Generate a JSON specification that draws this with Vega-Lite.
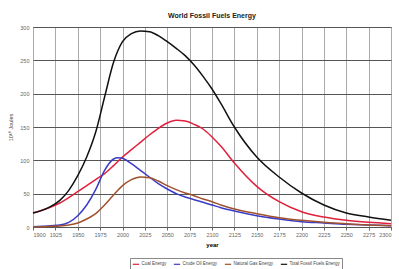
{
  "$schema": "https://vega.github.io/schema/vega-lite/v6.json",
  "width": 358,
  "height": 200,
  "autosize": {"type": "none"},
  "padding": {"left": 33, "top": 27, "right": 8, "bottom": 42},
  "background": "white",
  "title": {"text": "World Fossil Fuels Energy", "fontSize": 7, "fontWeight": "bold", "font": "Liberation Sans", "color": "#222", "offset": 6},
  "config": {
    "view": {"stroke": "#888", "strokeWidth": 1},
    "font": "Liberation Sans"
  },
  "data": {"values": [
    {"year": 1900, "series": "Coal Energy", "value": 21},
    {"year": 1910, "series": "Coal Energy", "value": 25},
    {"year": 1920, "series": "Coal Energy", "value": 30},
    {"year": 1930, "series": "Coal Energy", "value": 36},
    {"year": 1940, "series": "Coal Energy", "value": 44},
    {"year": 1950, "series": "Coal Energy", "value": 53},
    {"year": 1960, "series": "Coal Energy", "value": 62},
    {"year": 1970, "series": "Coal Energy", "value": 71},
    {"year": 1980, "series": "Coal Energy", "value": 80},
    {"year": 1990, "series": "Coal Energy", "value": 92},
    {"year": 2000, "series": "Coal Energy", "value": 105},
    {"year": 2010, "series": "Coal Energy", "value": 116},
    {"year": 2020, "series": "Coal Energy", "value": 127},
    {"year": 2030, "series": "Coal Energy", "value": 138},
    {"year": 2040, "series": "Coal Energy", "value": 148},
    {"year": 2050, "series": "Coal Energy", "value": 156},
    {"year": 2060, "series": "Coal Energy", "value": 160},
    {"year": 2070, "series": "Coal Energy", "value": 159},
    {"year": 2080, "series": "Coal Energy", "value": 154},
    {"year": 2090, "series": "Coal Energy", "value": 147},
    {"year": 2100, "series": "Coal Energy", "value": 135},
    {"year": 2110, "series": "Coal Energy", "value": 121},
    {"year": 2125, "series": "Coal Energy", "value": 96},
    {"year": 2150, "series": "Coal Energy", "value": 61},
    {"year": 2175, "series": "Coal Energy", "value": 38},
    {"year": 2200, "series": "Coal Energy", "value": 23},
    {"year": 2225, "series": "Coal Energy", "value": 15},
    {"year": 2250, "series": "Coal Energy", "value": 10},
    {"year": 2275, "series": "Coal Energy", "value": 7},
    {"year": 2300, "series": "Coal Energy", "value": 5},

    {"year": 1900, "series": "Crude Oil Energy", "value": 0.5},
    {"year": 1910, "series": "Crude Oil Energy", "value": 1},
    {"year": 1920, "series": "Crude Oil Energy", "value": 2},
    {"year": 1930, "series": "Crude Oil Energy", "value": 3},
    {"year": 1940, "series": "Crude Oil Energy", "value": 7},
    {"year": 1950, "series": "Crude Oil Energy", "value": 17},
    {"year": 1960, "series": "Crude Oil Energy", "value": 33},
    {"year": 1970, "series": "Crude Oil Energy", "value": 56},
    {"year": 1980, "series": "Crude Oil Energy", "value": 85},
    {"year": 1990, "series": "Crude Oil Energy", "value": 102},
    {"year": 1995, "series": "Crude Oil Energy", "value": 104},
    {"year": 2000, "series": "Crude Oil Energy", "value": 103},
    {"year": 2010, "series": "Crude Oil Energy", "value": 95},
    {"year": 2020, "series": "Crude Oil Energy", "value": 85},
    {"year": 2030, "series": "Crude Oil Energy", "value": 75},
    {"year": 2040, "series": "Crude Oil Energy", "value": 65},
    {"year": 2050, "series": "Crude Oil Energy", "value": 57},
    {"year": 2060, "series": "Crude Oil Energy", "value": 50},
    {"year": 2070, "series": "Crude Oil Energy", "value": 45},
    {"year": 2080, "series": "Crude Oil Energy", "value": 41},
    {"year": 2090, "series": "Crude Oil Energy", "value": 37},
    {"year": 2100, "series": "Crude Oil Energy", "value": 33},
    {"year": 2110, "series": "Crude Oil Energy", "value": 29},
    {"year": 2125, "series": "Crude Oil Energy", "value": 24},
    {"year": 2150, "series": "Crude Oil Energy", "value": 17},
    {"year": 2175, "series": "Crude Oil Energy", "value": 12},
    {"year": 2200, "series": "Crude Oil Energy", "value": 8},
    {"year": 2225, "series": "Crude Oil Energy", "value": 6},
    {"year": 2250, "series": "Crude Oil Energy", "value": 4},
    {"year": 2275, "series": "Crude Oil Energy", "value": 3},
    {"year": 2300, "series": "Crude Oil Energy", "value": 2},

    {"year": 1900, "series": "Natural Gas Energy", "value": 0},
    {"year": 1910, "series": "Natural Gas Energy", "value": 0.3},
    {"year": 1920, "series": "Natural Gas Energy", "value": 1},
    {"year": 1930, "series": "Natural Gas Energy", "value": 1.5},
    {"year": 1940, "series": "Natural Gas Energy", "value": 3},
    {"year": 1950, "series": "Natural Gas Energy", "value": 6},
    {"year": 1960, "series": "Natural Gas Energy", "value": 12},
    {"year": 1970, "series": "Natural Gas Energy", "value": 20},
    {"year": 1980, "series": "Natural Gas Energy", "value": 33},
    {"year": 1990, "series": "Natural Gas Energy", "value": 48},
    {"year": 2000, "series": "Natural Gas Energy", "value": 62},
    {"year": 2010, "series": "Natural Gas Energy", "value": 71},
    {"year": 2020, "series": "Natural Gas Energy", "value": 75},
    {"year": 2030, "series": "Natural Gas Energy", "value": 74},
    {"year": 2040, "series": "Natural Gas Energy", "value": 69},
    {"year": 2050, "series": "Natural Gas Energy", "value": 62},
    {"year": 2060, "series": "Natural Gas Energy", "value": 56},
    {"year": 2070, "series": "Natural Gas Energy", "value": 51},
    {"year": 2080, "series": "Natural Gas Energy", "value": 47},
    {"year": 2090, "series": "Natural Gas Energy", "value": 42},
    {"year": 2100, "series": "Natural Gas Energy", "value": 38},
    {"year": 2110, "series": "Natural Gas Energy", "value": 33},
    {"year": 2125, "series": "Natural Gas Energy", "value": 27},
    {"year": 2150, "series": "Natural Gas Energy", "value": 20},
    {"year": 2175, "series": "Natural Gas Energy", "value": 14},
    {"year": 2200, "series": "Natural Gas Energy", "value": 10},
    {"year": 2225, "series": "Natural Gas Energy", "value": 7},
    {"year": 2250, "series": "Natural Gas Energy", "value": 5},
    {"year": 2275, "series": "Natural Gas Energy", "value": 3},
    {"year": 2300, "series": "Natural Gas Energy", "value": 2},

    {"year": 1900, "series": "Total Fossil Fuels Energy", "value": 21},
    {"year": 1910, "series": "Total Fossil Fuels Energy", "value": 25},
    {"year": 1920, "series": "Total Fossil Fuels Energy", "value": 31},
    {"year": 1930, "series": "Total Fossil Fuels Energy", "value": 40},
    {"year": 1940, "series": "Total Fossil Fuels Energy", "value": 55},
    {"year": 1950, "series": "Total Fossil Fuels Energy", "value": 77},
    {"year": 1960, "series": "Total Fossil Fuels Energy", "value": 105},
    {"year": 1970, "series": "Total Fossil Fuels Energy", "value": 142},
    {"year": 1980, "series": "Total Fossil Fuels Energy", "value": 195},
    {"year": 1990, "series": "Total Fossil Fuels Energy", "value": 247},
    {"year": 2000, "series": "Total Fossil Fuels Energy", "value": 278},
    {"year": 2010, "series": "Total Fossil Fuels Energy", "value": 290},
    {"year": 2020, "series": "Total Fossil Fuels Energy", "value": 294},
    {"year": 2030, "series": "Total Fossil Fuels Energy", "value": 293},
    {"year": 2040, "series": "Total Fossil Fuels Energy", "value": 287},
    {"year": 2050, "series": "Total Fossil Fuels Energy", "value": 278},
    {"year": 2060, "series": "Total Fossil Fuels Energy", "value": 268},
    {"year": 2070, "series": "Total Fossil Fuels Energy", "value": 257},
    {"year": 2080, "series": "Total Fossil Fuels Energy", "value": 243},
    {"year": 2090, "series": "Total Fossil Fuels Energy", "value": 226},
    {"year": 2100, "series": "Total Fossil Fuels Energy", "value": 207},
    {"year": 2110, "series": "Total Fossil Fuels Energy", "value": 185},
    {"year": 2125, "series": "Total Fossil Fuels Energy", "value": 150},
    {"year": 2150, "series": "Total Fossil Fuels Energy", "value": 105},
    {"year": 2175, "series": "Total Fossil Fuels Energy", "value": 75},
    {"year": 2200, "series": "Total Fossil Fuels Energy", "value": 51},
    {"year": 2225, "series": "Total Fossil Fuels Energy", "value": 33},
    {"year": 2250, "series": "Total Fossil Fuels Energy", "value": 21},
    {"year": 2275, "series": "Total Fossil Fuels Energy", "value": 15},
    {"year": 2300, "series": "Total Fossil Fuels Energy", "value": 10}
  ]},
  "mark": {"type": "line", "interpolate": "monotone", "strokeWidth": 1.5},
  "encoding": {
    "x": {
      "field": "year", "type": "quantitative",
      "scale": {"domain": [1900, 2300], "nice": false, "zero": false},
      "axis": {
        "values": [1900,1925,1950,1975,2000,2025,2050,2075,2100,2125,2150,2175,2200,2225,2250,2275,2300],
        "format": "d", "title": "year", "titleFontSize": 6, "titleFontWeight": "bold", "titlePadding": 4,
        "labelFontSize": 5.5, "labelColor": "#666", "grid": true, "gridColor": "#aaa", "gridWidth": 1,
        "domain": false, "tickColor": "#666", "tickSize": 3, "labelPadding": 2
      }
    },
    "y": {
      "field": "value", "type": "quantitative",
      "scale": {"domain": [0, 300], "nice": false},
      "axis": {
        "values": [0, 50, 100, 150, 200, 250, 300],
        "title": "10¹⁸ Joules", "titleFontSize": 5.5, "titleFontWeight": "normal", "titleColor": "#444", "titlePadding": 6,
        "labelFontSize": 5.5, "labelColor": "#666", "grid": true, "gridColor": "#555", "gridWidth": 1,
        "domain": false, "ticks": false, "labelPadding": 4
      }
    },
    "color": {
      "field": "series", "type": "nominal",
      "scale": {
        "domain": ["Coal Energy", "Crude Oil Energy", "Natural Gas Energy", "Total Fossil Fuels Energy"],
        "range": ["#e0203c", "#3b3bc8", "#a0522d", "#111111"]
      },
      "legend": {
        "orient": "none", "legendX": 97, "legendY": 231, "direction": "horizontal", "title": null,
        "labelFontSize": 4.5, "labelColor": "#444", "symbolType": "stroke", "symbolSize": 40, "symbolStrokeWidth": 1.2,
        "strokeColor": "#888", "padding": 2, "columnPadding": 4, "labelOffset": 1.5
      }
    }
  }
}
